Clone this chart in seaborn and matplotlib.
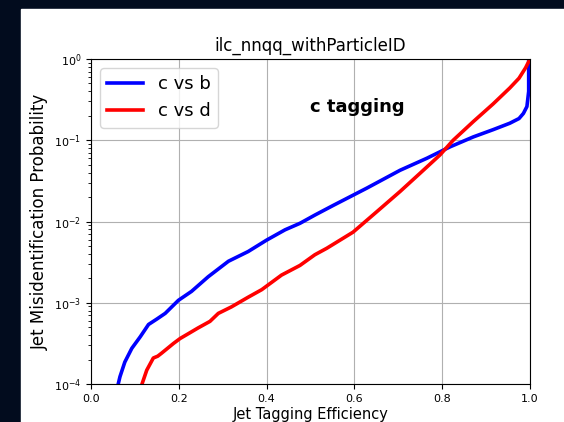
import numpy as np
import pandas as pd
import matplotlib
matplotlib.use("Agg")
import matplotlib.pyplot as plt
import matplotlib.patches as mpatches
import seaborn as sns

# --- values ---
eff_c_vs_b = [0.061, 0.066, 0.077, 0.093, 0.112, 0.131, 0.150, 0.169, 0.199, 0.229,
              0.267, 0.313, 0.358, 0.400, 0.442, 0.476, 0.510, 0.552, 0.628, 0.704,
              0.765, 0.818, 0.871, 0.916, 0.954, 0.975, 0.985, 0.993, 0.997, 0.997]
mis_c_vs_b = [0.95e-4, 1.23e-4, 1.86e-4, 2.75e-4, 3.8e-4, 5.4e-4, 6.3e-4, 7.4e-4, 1.07e-3, 1.38e-3,
              2.09e-3, 3.24e-3, 4.27e-3, 5.9e-3, 7.9e-3, 9.5e-3, 1.2e-2, 1.58e-2, 2.57e-2, 4.27e-2,
              6.0e-2, 8.3e-2, 0.110, 0.135, 0.162, 0.185, 0.214, 0.26, 0.40, 1.0]

eff_c_vs_d = [0.113, 0.127, 0.142, 0.152, 0.161, 0.188, 0.203, 0.222, 0.244, 0.271,
              0.290, 0.320, 0.358, 0.389, 0.434, 0.476, 0.510, 0.537, 0.597, 0.651,
              0.704, 0.749, 0.795, 0.825, 0.871, 0.916, 0.954, 0.975, 0.990, 1.0]
mis_c_vs_d = [0.89e-4, 1.48e-4, 2.09e-4, 2.2e-4, 2.4e-4, 3.16e-4, 3.63e-4, 4.17e-4, 4.9e-4, 5.9e-4,
              7.4e-4, 8.9e-4, 1.17e-3, 1.45e-3, 2.19e-3, 2.88e-3, 3.9e-3, 4.68e-3, 7.4e-3, 1.32e-2,
              2.34e-2, 3.9e-2, 6.6e-2, 0.10, 0.17, 0.28, 0.44, 0.58, 0.78, 1.0]

series_labels = ["c vs b", "c vs d"]
series_colors = ["blue", "red"]

fig = plt.figure(figsize=(5.64, 4.22), dpi=100)
fig.patch.set_facecolor("#020c1e")
# white figure area of the screenshot
fig.patches.append(mpatches.Rectangle((21 / 564, 0), 1, (422 - 9) / 422,
                                      transform=fig.transFigure, color="white", zorder=-1))

ax = fig.add_axes([91 / 564, 38 / 422, 439 / 564, 325 / 422])

for eff, mis, lab, col in zip([eff_c_vs_b, eff_c_vs_d], [mis_c_vs_b, mis_c_vs_d],
                              series_labels, series_colors):
    df = pd.DataFrame({"eff": eff, "mis": mis})
    sns.lineplot(data=df, x="eff", y="mis", color=col, lw=2.6, label=lab,
                 sort=False, estimator=None, ax=ax)

ax.set_yscale("log")
ax.set_xlim(0, 1)
ax.set_ylim(1e-4, 1)
ax.grid(True, color="#b0b0b0", lw=0.8)
ax.tick_params(labelsize=8)

ax.set_title("ilc_nnqq_withParticleID", fontsize=12)
ax.set_xlabel("Jet Tagging Efficiency", fontsize=10.5, labelpad=2)
ax.set_ylabel("Jet Misidentification Probability", fontsize=12)
ax.text(0.5, 0.224, "c tagging", fontsize=13, fontweight="bold", ha="left", va="baseline")

ax.legend(loc="upper left", fontsize=13)

fig.savefig("out.png", dpi=100, facecolor=fig.get_facecolor())
